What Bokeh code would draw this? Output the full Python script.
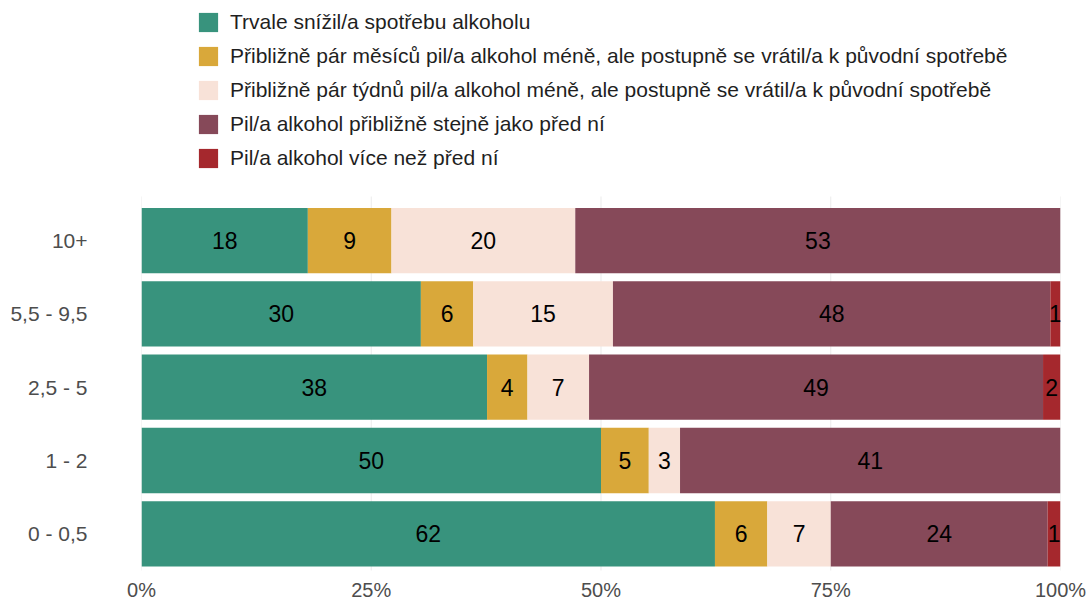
import numpy as np
from bokeh.plotting import figure
from bokeh.models import ColumnDataSource, Range1d, FixedTicker, Legend
from bokeh.core.properties import value
from bokeh.embed import file_html
from bokeh.resources import INLINE

categories = ["0 - 0,5", "1 - 2", "2,5 - 5", "5,5 - 9,5", "10+"]
series_names = [
    "Trvale snížil/a spotřebu alkoholu",
    "Přibližně pár měsíců pil/a alkohol méně, ale postupně se vrátil/a k původní spotřebě",
    "Přibližně pár týdnů pil/a alkohol méně, ale postupně se vrátil/a k původní spotřebě",
    "Pil/a alkohol přibližně stejně jako před ní",
    "Pil/a alkohol více než před ní",
]
trvale = [62.4, 50.0, 37.6, 30.4, 18.1]
mesice = [5.7, 5.2, 4.4, 5.7, 9.1]
tydny = [6.9, 3.4, 6.7, 15.2, 20.0]
stejne = [23.6, 41.4, 49.4, 47.6, 52.8]
vice = [1.4, 0.0, 1.9, 1.1, 0.0]
colors = ["#38937d", "#d9a83a", "#f8e2d8", "#864959", "#a5282d"]
x_ticks = [0, 25, 50, 75, 100]
x_tick_labels = ["0%", "25%", "50%", "75%", "100%"]

FONT = "Liberation Sans"
keys = ["s0", "s1", "s2", "s3", "s4"]
series = [trvale, mesice, tydny, stejne, vice]
ypos = list(range(len(categories)))
data = {"y": ypos}
for k, s in zip(keys, series):
    data[k] = s
source = ColumnDataSource(data)

n = len(categories)
p = figure(width=1091, height=603, output_backend="svg", toolbar_location=None,
           x_range=Range1d(0, 100), y_range=Range1d(-0.5, 7.273),
           min_border_left=141, min_border_right=31, min_border_top=0, min_border_bottom=33)

# light vertical grid lines spanning the panel only
gsrc = ColumnDataSource(dict(x=x_ticks, y0=[-0.6] * len(x_ticks), y1=[n - 1 + 0.6] * len(x_ticks)))
p.segment(x0="x", x1="x", y0="y0", y1="y1", source=gsrc, line_color="#ebebeb", line_width=1)

renderers = p.hbar_stack(keys, y="y", height=0.89, color=colors, line_color=None,
                         source=source)

# labels
arr = np.array(series)
cum = np.cumsum(arr, axis=0)
starts = cum - arr
lx, ly, lt = [], [], []
for i in range(arr.shape[0]):
    for j in range(n):
        v = arr[i, j]
        if v > 0:
            lx.append(starts[i, j] + v / 2)
            ly.append(ypos[j])
            lt.append(str(int(round(v))))
lsrc = ColumnDataSource(dict(x=lx, y=ly, t=lt))
p.text(x="x", y="y", text="t", source=lsrc, text_align="center", text_baseline="middle",
       text_font=value(FONT), text_font_size="23px", text_color="#000000")

legend = Legend(items=[(nm, [r]) for nm, r in zip(series_names, renderers)],
                location=(55, 400), orientation="vertical",
                glyph_width=24, glyph_height=24, label_height=24, spacing=10,
                label_standoff=10, padding=0, margin=0, border_line_color=None,
                background_fill_alpha=0,
                label_text_font=FONT, label_text_font_size="21px", label_text_color="#1f1f1f")
p.add_layout(legend, "center")

p.xaxis.ticker = FixedTicker(ticks=x_ticks)
p.xaxis.major_label_overrides = {t: l for t, l in zip(x_ticks, x_tick_labels)}
p.yaxis.ticker = FixedTicker(ticks=ypos)
p.yaxis.major_label_overrides = {y: c for y, c in zip(ypos, categories)}
for ax in (p.xaxis, p.yaxis):
    ax.axis_line_color = None
    ax.major_tick_line_color = None
    ax.minor_tick_line_color = None
    ax.major_tick_out = 0
    ax.major_tick_in = 0
    ax.minor_tick_out = 0
    ax.major_label_text_font = FONT
    ax.major_label_text_font_size = "20px"
    ax.major_label_text_color = "#4d4d4d"
p.yaxis.major_label_text_font_size = "21px"
p.xaxis.major_label_standoff = 8
p.yaxis.major_label_standoff = 54

p.xgrid.grid_line_color = None
p.ygrid.grid_line_color = None
p.outline_line_color = None
p.background_fill_color = "white"

open("out.html", "w").write(file_html(p, INLINE))
